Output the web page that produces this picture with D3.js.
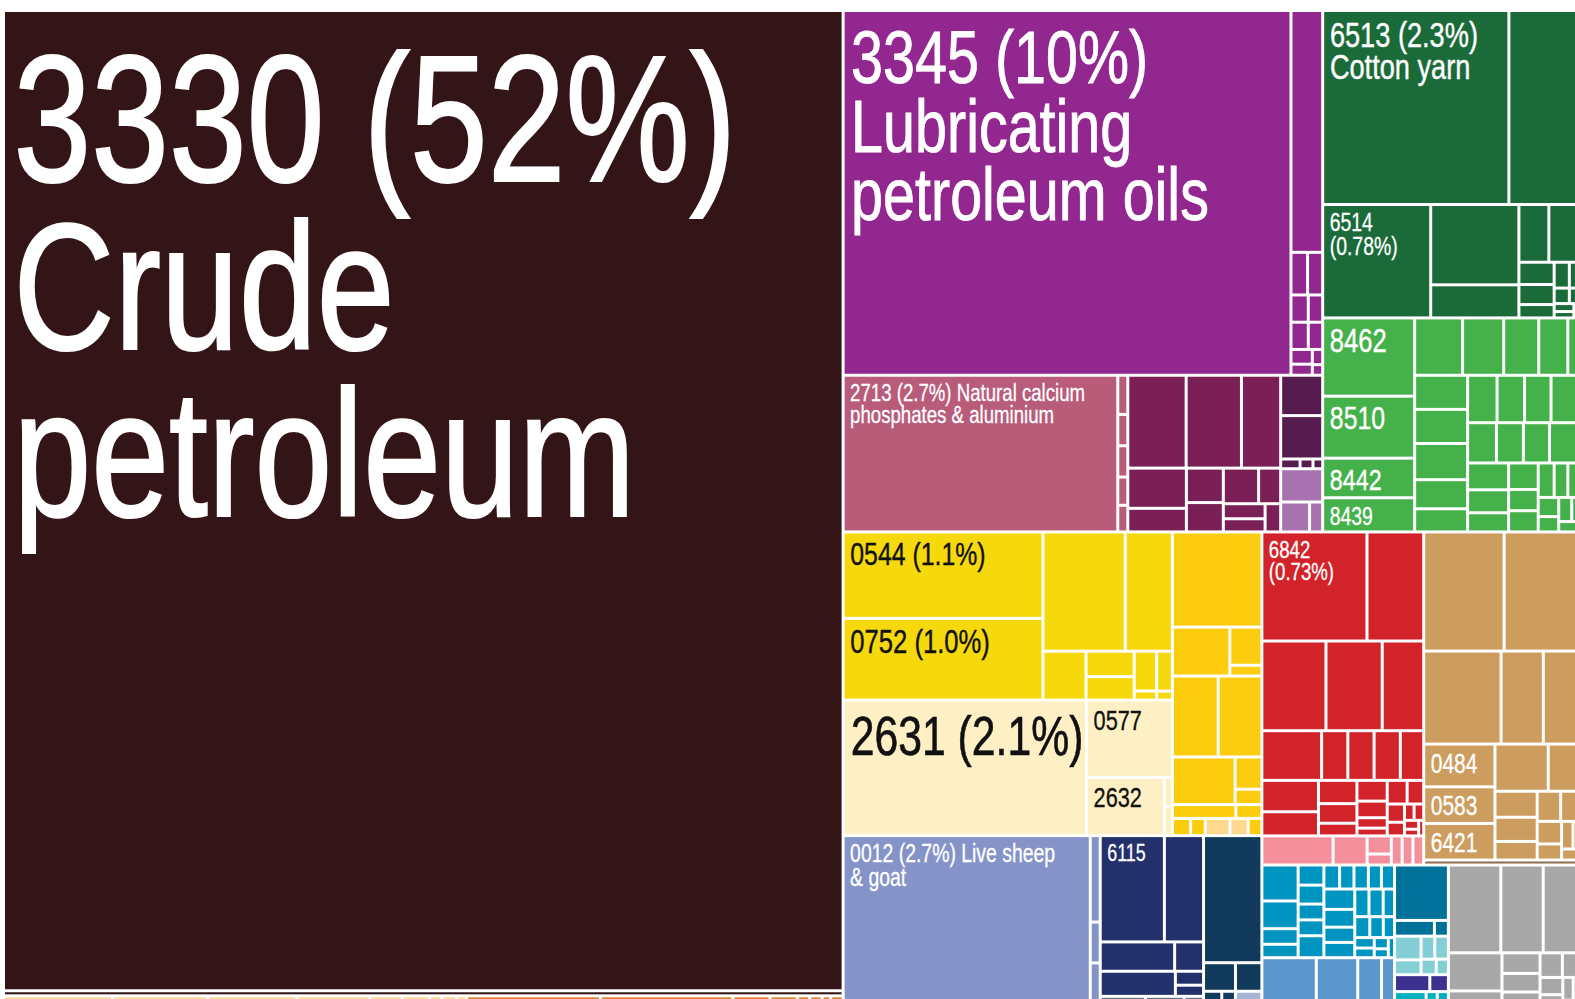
<!DOCTYPE html>
<html>
<head>
<meta charset="utf-8">
<script src="https://cdn.jsdelivr.net/npm/d3@7"></script>
<style>
  body { margin: 0; background: #fff; }
  svg { display: block; }
</style>
</head>
<body>
<div id="main"></div>
<script>
const ctx = {
    w: 1575,
    h: 999,
    left: 5,
    top: 12,
    mapW: 1575,
    mapH: 995,
};

// labelled products: code, share of exports (%), sector, name
const labelled = [
    ["3330", 52.4, "petroleum", "Crude petroleum"],
    ["3345", 10.4, "purple", "Lubricating petroleum oils"],
    ["2713", 2.74, "phosphate", "Natural calcium phosphates & aluminium"],
    ["6513", 2.3, "darkgreen", "Cotton yarn"],
    ["6514", 0.78, "darkgreen"],
    ["8462", 0.458, "green"],
    ["8510", 0.363, "green"],
    ["8442", 0.232, "green"],
    ["8439", 0.20, "green"],
    ["0544", 1.1, "yellow"],
    ["0752", 1.04, "yellow"],
    ["2631", 2.1, "cream"],
    ["0577", 0.423, "cream"],
    ["2632", 0.288, "cream"],
    ["0012", 2.72, "lavender", "Live sheep & goat"],
    ["6115", 0.434, "navy"],
    ["6842", 0.73, "red"],
    ["0484", 0.194, "tan"],
    ["0583", 0.166, "tan"],
    ["6421", 0.166, "tan"],
];

// unlabelled products, share of exports (%), per sector
const petroleum = [0.27];
const lightorange = [0.088, 0.077, 0.072, 0.059, 0.026, 0.022, 0.010, 0.012, 0.008, 0.027, 0.02];
const orange = [0.108, 0.107, 0.030, 0.022, 0.010, 0.010, 0.007, 0.010];
const purple = [0.488, 0.045, 0.041, 0.03, 0.025, 0.03, 0.025, 0.02, 0.015, 0.01, 0.007];
const phosphate = [0.025, 0.02, 0.02, 0.018, 0.017];
const maroon = [0.345, 0.327, 0.232, 0.15, 0.088, 0.081, 0.069, 0.08, 0.05, 0.04, 0.035, 0.028];
const plum = [0.108, 0.116, 0.012, 0.008, 0.006];
const lilac = [0.089, 0.055, 0.025];
const darkgreen = [0.897, 0.451, 0.186, 0.11, 0.12, 0.05, 0.045, 0.03, 0.025, 0.02, 0.015, 0.012, 0.01, 0.008, 0.007];
const green = [0.175, 0.150, 0.128, 0.106, 0.05,
               0.115, 0.115, 0.122, 0.098, 0.078,
               0.089, 0.083, 0.08, 0.092,
               0.074, 0.069, 0.067, 0.082,
               0.07, 0.06, 0.05, 0.05, 0.04, 0.04, 0.035, 0.03, 0.03, 0.025, 0.02, 0.02, 0.015, 0.015];
const yellow = [0.625, 0.358, 0.134, 0.078, 0.072, 0.057, 0.013, 0.04, 0.009];
const cream = [0.015, 0.015];
const gold = [0.542, 0.179, 0.078, 0.022, 0.236, 0.225, 0.19, 0.055, 0.026, 0.056, 0.023, 0.02, 0.016, 0.015];
const lavender = [0.055, 0.026, 0.029];
const navy = [0.265, 0.139, 0.054, 0.12, 0.025, 0.02];
const slate = [0.035, 0.03, 0.015];
const darkteal = [0.472, 0.058, 0.048, 0.02, 0.015];
const steel = [0.029];
const red = [0.394, 0.366, 0.321, 0.237, 0.189, 0.083, 0.083, 0.083, 0.074,
             0.113, 0.087, 0.057, 0.048, 0.031, 0.04, 0.032, 0.02, 0.015,
             0.03, 0.025, 0.02, 0.015, 0.01, 0.01, 0.008, 0.006, 0.005];
const pink = [0.132, 0.063, 0.028, 0.017, 0.02, 0.02, 0.02];
const tan = [0.61, 0.587, 0.458, 0.25, 0.226,
             0.16, 0.10, 0.07, 0.065, 0.05, 0.045, 0.04, 0.035, 0.025, 0.02, 0.015, 0.014];
const brown = [0.05];
const cyanblue = [0.083, 0.064, 0.036, 0.031, 0.033, 0.031, 0.026, 0.026, 0.036,
                  0.024, 0.022, 0.022, 0.02, 0.02,
                  0.04, 0.035, 0.03, 0.03, 0.025, 0.025, 0.02, 0.02, 0.018, 0.015, 0.013, 0.012, 0.01, 0.008, 0.008];
const blue = [0.176, 0.134, 0.077, 0.042];
const teal = [0.19, 0.04, 0.014];
const lightcyan = [0.04, 0.025, 0.02, 0.02, 0.015, 0.012];
const indigo = [0.038, 0.02];
const cyan = [0.034, 0.012, 0.012];
const gray = [0.293, 0.237, 0.214, 0.13, 0.06, 0.05, 0.045, 0.04, 0.035, 0.03, 0.025, 0.02, 0.015, 0.012, 0.01];

const pools = {petroleum, lightorange, orange, purple, phosphate, maroon, plum, lilac,
    darkgreen, green, yellow, cream, gold, lavender, navy, slate, darkteal, steel,
    red, pink, tan, brown, cyanblue, blue, teal, lightcyan, indigo, cyan, gray};

const colors = {
    petroleum: "#331417", lightorange: "#fdd88e", orange: "#e2822a", purple: "#92278f",
    phosphate: "#b85c7a", maroon: "#7b1f57", plum: "#561c4f", lilac: "#a874b0",
    darkgreen: "#1b6b3a", green: "#45b14a", yellow: "#f6d90c", cream: "#fef0c4",
    gold: "#fccd0e", lavender: "#8593c8", navy: "#22306b", slate: "#5f6e93",
    darkteal: "#123a5c", steel: "#a4b5d1", red: "#d2232a", pink: "#f4909c",
    tan: "#cd9c5f", brown: "#8d6b4c", cyanblue: "#0095c0", blue: "#5b96cc",
    teal: "#00729a", lightcyan: "#84cfd5", indigo: "#3d3190", cyan: "#00b2bd",
    gray: "#a7a8a7"
};
const darkText = new Set(["yellow", "cream", "gold", "lightorange"]);

// label look: font size, words of the name per line, or code/pct only
const labelStyle = {
    "3330": {size: 180, words: [0, 1, 1]},
    "3345": {size: 74, words: [0, 1, 2]},
    "2713": {size: 24, words: [2, 3]},
    "6513": {size: 35, words: [0, 2]},
    "6514": {size: 25, split: true},
    "6842": {size: 24, split: true},
    "0544": {size: 32},
    "0752": {size: 33},
    "2631": {size: 55},
    "0577": {size: 28, code: true},
    "2632": {size: 28, code: true},
    "8462": {size: 33, code: true},
    "8510": {size: 32, code: true},
    "8442": {size: 30, code: true},
    "8439": {size: 25, code: true},
    "0012": {size: 25, words: [2, 2]},
    "6115": {size: 23, code: true},
    "0484": {size: 27, code: true},
    "0583": {size: 27, code: true},
    "6421": {size: 27, code: true},
};

// ---- hierarchy helpers
const used = {};
function cells(sector, n) {
    const i = used[sector] || 0;
    used[sector] = i + n;
    return pools[sector].slice(i, i + n).map(v => ({sector: sector, value: v}));
}
function item(code) {
    const p = labelled.find(r => r[0] === code);
    return {code: p[0], value: p[1], sector: p[2], name: p[3]};
}
const H = (...k) => ({dir: "h", children: k.flat()});
const V = (...k) => ({dir: "v", children: k.flat()});
const S = (...k) => ({dir: "s", children: k.flat()});

const tree = H(
    V(item("3330"), cells("petroleum", 1), H(H(cells("lightorange", 9)), H(cells("orange", 8)))),
    V(
        H(
            V(
                H(item("3345"), V(cells("purple", 1), H(cells("purple", 2)), H(cells("purple", 2)), S(cells("purple", 6)))),
                H(item("2713"), V(cells("phosphate", 5)),
                  V(H(cells("maroon", 3)), S(cells("maroon", 9))),
                  V(V(cells("plum", 2), H(cells("plum", 3))), V(cells("lilac", 1), H(cells("lilac", 2)))))
            ),
            V(
                V(H(item("6513"), cells("darkgreen", 1)),
                  H(item("6514"), V(cells("darkgreen", 2)), S(cells("darkgreen", 12)))),
                H(V(item("8462"), item("8510"), item("8442"), item("8439")),
                  V(H(cells("green", 5)),
                    H(V(cells("green", 5)),
                      V(H(cells("green", 4)), H(cells("green", 4)), S(cells("green", 14))))))
            )
        ),
        H(
            V(
                H(
                    V(
                        H(V(item("0544"), item("0752")),
                          V(H(cells("yellow", 2)),
                            H(cells("yellow", 1), H(V(cells("yellow", 2)), V(cells("yellow", 2)), V(cells("yellow", 2)))))),
                        H(item("2631"), V(item("0577"), H(item("2632"), V(cells("cream", 2)))))
                    ),
                    V(cells("gold", 1),
                      H(cells("gold", 1), V(cells("gold", 2))),
                      H(cells("gold", 2)),
                      H(cells("gold", 1), V(cells("gold", 2))),
                      V(H(cells("gold", 2)), H(cells("gold", 2), cells("lightorange", 2), cells("gold", 1))))
                ),
                H(item("0012"),
                  V(cells("lavender", 3)),
                  V(H(item("6115"), cells("navy", 1)),
                    H(cells("navy", 2)),
                    H(cells("navy", 1), V(cells("navy", 2))),
                    H(cells("slate", 3))),
                  V(cells("darkteal", 1), H(cells("darkteal", 2)), H(cells("darkteal", 2), cells("steel", 1))))
            ),
            V(
                H(
                    V(
                        V(H(item("6842"), cells("red", 1)),
                          H(cells("red", 3)),
                          H(cells("red", 5)),
                          H(V(cells("red", 2)), V(cells("red", 3)), V(cells("red", 4)), S(cells("red", 9)))),
                        H(cells("pink", 2), V(cells("pink", 2)), cells("pink", 3))
                    ),
                    V(H(cells("tan", 2)),
                      H(cells("tan", 3)),
                      H(V(item("0484"), item("0583"), item("6421")), S(cells("tan", 12))),
                      cells("brown", 1))
                ),
                H(
                    H(
                        V(H(V(cells("cyanblue", 4)), V(cells("cyanblue", 5)),
                            V(H(cells("cyanblue", 5)), S(cells("cyanblue", 15)))),
                          H(cells("blue", 4))),
                        V(V(cells("teal", 1), H(cells("teal", 2))), S(cells("lightcyan", 6)),
                          H(cells("indigo", 2)), H(cells("cyan", 3)))
                    ),
                    V(H(cells("gray", 3)), S(cells("gray", 12)))
                )
            )
        )
    )
);

function tile(node, x0, y0, x1, y1) {
    const t = node.data.dir === "h" ? d3.treemapDice
            : node.data.dir === "v" ? d3.treemapSlice
            : d3.treemapSquarify;
    t(node, x0, y0, x1, y1);
}

const pct = d3.format(".2r");

function labelLines(d) {
    const st = labelStyle[d.code];
    const head = d.code;
    const p = "(" + pct(d.value) + "%)";
    if (st.code) return [head];
    if (st.split) return [head, p];
    const words = d.name ? d.name.split(" ") : [];
    const spec = st.words || [0];
    let k = 0;
    return spec.map((n, i) => {
        const part = words.slice(k, k + n).join(" ");
        k += n;
        if (i === 0) return [head + " " + p, part].filter(s => s).join(" ");
        return part;
    });
}

function createTreemap(svg) {
    const root = d3.hierarchy(tree)
        .sum(d => d.children ? 0 : d.value);

    d3.treemap()
        .tile(tile)
        .size([ctx.mapW, ctx.mapH])
        .paddingInner(3)(root);

    const g = svg.append("g")
        .attr("transform", `translate(${ctx.left},${ctx.top})`);

    const leaves = g.selectAll("g.leaf")
        .data(root.leaves())
        .join("g")
        .attr("class", "leaf")
        .attr("transform", d => `translate(${d.x0},${d.y0})`);

    leaves.append("rect")
        .attr("width", d => Math.max(0, d.x1 - d.x0))
        .attr("height", d => Math.max(0, d.y1 - d.y0))
        .style("fill", d => colors[d.data.sector]);

    // squeeze the font so its digits are as narrow as the original's
    const probe = svg.append("text")
        .attr("class", "lbl")
        .style("font-size", "100px")
        .text("0123456789");
    const sx = 432 / probe.node().getComputedTextLength();
    probe.remove();

    const lab = leaves.filter(d => d.data.code && labelStyle[d.data.code]);
    lab.append("text")
        .attr("class", "lbl")
        .attr("transform", d => {
            const s = labelStyle[d.data.code].size;
            return `translate(${5 + 0.02 * s},${0.93 * s + 2}) scale(${sx},1)`;
        })
        .style("font-size", d => labelStyle[d.data.code].size + "px")
        .style("fill", d => darkText.has(d.data.sector) ? "#111" : "#fff")
        .style("stroke", d => darkText.has(d.data.sector) ? "#111" : "#fff")
        .style("stroke-width", d => labelStyle[d.data.code].size * 0.012)
        .selectAll("tspan")
        .data(d => labelLines(d.data).map(t => ({t: t, s: labelStyle[d.data.code].size})))
        .join("tspan")
        .attr("x", 0)
        .attr("y", (d, i) => i * d.s * 0.93)
        .text(d => d.t);
}

function createViz() {
    const svgEl = d3.select("#main").append("svg")
        .attr("width", ctx.w)
        .attr("height", ctx.h);
    svgEl.append("style").text(
        ".lbl { font-family: 'Liberation Sans Narrow', 'Arial Narrow', 'Liberation Sans', Arial, sans-serif; }");
    createTreemap(svgEl);
}

createViz();
</script>
</body>
</html>
